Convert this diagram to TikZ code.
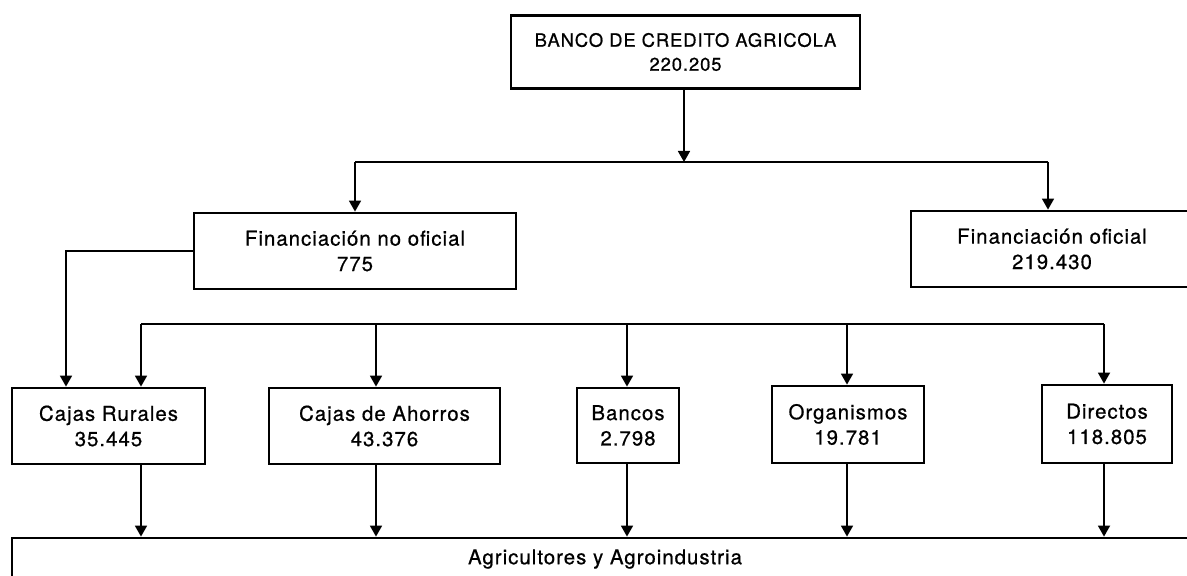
\documentclass[tikz,border=0pt]{standalone}
\usepackage{fontspec}
\setmainfont{TeX Gyre Heros}[LetterSpace=5,FakeBold=0.7]
\usetikzlibrary{arrows.meta,calc}
\begin{document}
\begin{tikzpicture}[x=0.5pt,y=-0.5pt,
  box/.style={draw,line width=1.4pt,align=center,inner sep=0pt,
    font=\fontsize{10.2}{12.7}\selectfont},
  link/.style={line width=0.85pt},
  arr/.style={link,-{Triangle[width=6pt,length=5.5pt]}}]
\useasboundingbox (0,0) rectangle (1187,576);
\clip (0,0) rectangle (1187,576);
% boxes
\node[box,minimum width=174.5pt,minimum height=36.5pt,font=\fontsize{9.2}{12}\selectfont] (top) at (685.5,52) {BANCO DE CREDITO AGRICOLA\\220.205};
\node[box,minimum width=161pt,minimum height=38pt] (nof) at (355,251) {Financiación no oficial\\775};
\node[box,minimum width=141pt,minimum height=38pt] (of) at (1052,249) {Financiación oficial\\219.430};
\node[box,minimum width=96.5pt,minimum height=38pt] (cr) at (108.5,426) {Cajas Rurales\\35.445};
\node[box,minimum width=115.5pt,minimum height=38pt] (ca) at (384.5,426) {Cajas de Ahorros\\43.376};
\node[box,minimum width=51pt,minimum height=37.5pt] (ba) at (628,425.5) {Bancos\\2.798};
\node[box,minimum width=76pt,minimum height=38.5pt] (org) at (848,424.5) {Organismos\\19.781};
\node[box,minimum width=65pt,minimum height=39pt] (di) at (1107,424) {Directos\\118.805};
\node[box,minimum width=593pt,minimum height=21pt] (bot) at (605,559) {Agricultores y Agroindustria};
% upper bus
\coordinate (t1) at (684,162);
\coordinate (t1l) at (355,162);
\coordinate (t1r) at (1048,162);
\draw[arr] (t1 |- top.south) -- (t1);
\draw[link] (t1l) -- (t1r);
\draw[arr] (t1l) -- (t1l |- nof.north);
\draw[arr] (t1r) -- (t1r |- of.north);
% non-official to Cajas Rurales
\coordinate (nx) at (66,300);
\draw[arr] (nof.west) -| (nx |- cr.north);
% lower bus
\coordinate (b1) at (141,324);
\coordinate (b2) at (376,324);
\coordinate (b3) at (627,324);
\coordinate (b4) at (847,324);
\coordinate (b5) at (1104,324);
\draw[link] (b1) -- (b5);
\draw[arr] (b1) -- (b1 |- cr.north);
\draw[arr] (b2) -- (b2 |- ca.north);
\draw[arr] (b3) -- (b3 |- ba.north);
\draw[arr] (b4) -- (b4 |- org.north);
\draw[arr] (b5) -- (b5 |- di.north);
% to bottom
\draw[arr] (b1 |- cr.south) -- (b1 |- bot.north);
\draw[arr] (b2 |- ca.south) -- (b2 |- bot.north);
\draw[arr] (b3 |- ba.south) -- (b3 |- bot.north);
\draw[arr] (b4 |- org.south) -- (b4 |- bot.north);
\draw[arr] (b5 |- di.south) -- (b5 |- bot.north);
\end{tikzpicture}
\end{document}
